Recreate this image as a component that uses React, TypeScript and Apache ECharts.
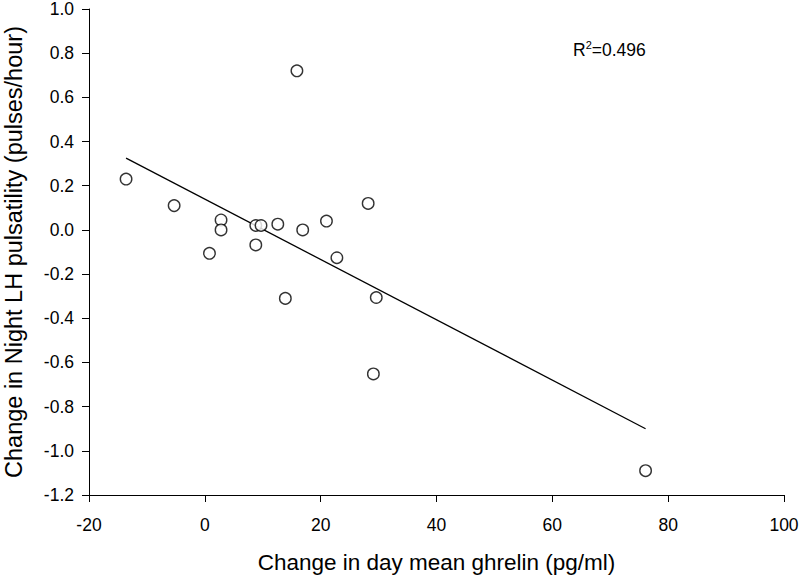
import React, { useEffect, useRef } from "react";
import * as echarts from "echarts";

// Change in day mean ghrelin (pg/ml) vs change in night LH pulsatility (pulses/hour)
const ghrelinChange: number[] = [-13.6, -5.3, 2.8, 2.8, 0.8, 8.8, 9.7, 8.8, 12.6, 16.9, 13.9, 15.9, 21.0, 22.8, 28.2, 29.6, 29.1, 76.1];
const lhChange: number[] = [0.23, 0.11, 0.045, 0.0, -0.106, 0.02, 0.02, -0.068, 0.026, 0.0, -0.31, 0.72, 0.04, -0.126, 0.12, -0.306, -0.652, -1.09];

// Regression line endpoints
const fitX: number[] = [-13.6, 76.1];
const fitY: number[] = [0.325, -0.9];

const xTicks = { min: -20, max: 100, interval: 20 };
const yTicks = { min: -1.2, max: 1.0, interval: 0.2 };

const rSquaredLabel = "0.496";
const xTitle = "Change in day mean ghrelin (pg/ml)";
const yTitle = "Change in Night LH pulsatility (pulses/hour)";

const FONT = "'Liberation Sans', Arial, Helvetica, sans-serif";

export default function App() {
  const ref = useRef<HTMLDivElement>(null);

  useEffect(() => {
    if (!ref.current) return;
    const chart = echarts.init(ref.current, null, { renderer: "svg" });
    const points = ghrelinChange.map((x, i) => [x, lhChange[i]]);
    const fit = fitX.map((x, i) => [x, fitY[i]]);
    const axisCommon = {
      axisLine: { show: true, onZero: false, lineStyle: { color: "#000", width: 1 } },
      axisTick: { show: true, inside: false, length: 7, lineStyle: { color: "#000", width: 1 } },
      splitLine: { show: false },
    };
    chart.setOption({
      animation: false,
      backgroundColor: "#fff",
      grid: { left: 89, top: 9, width: 695, height: 486, containLabel: false, outerBoundsMode: "none" },
      xAxis: {
        type: "value",
        ...axisCommon,
        min: xTicks.min,
        max: xTicks.max,
        interval: xTicks.interval,
        name: xTitle,
        nameLocation: "middle",
        nameGap: 56,
        nameTextStyle: { color: "#000", fontSize: 22.5, fontFamily: FONT },
        axisLabel: { color: "#000", fontSize: 17.5, fontFamily: FONT, margin: 21 },
      },
      yAxis: {
        type: "value",
        ...axisCommon,
        min: yTicks.min,
        max: yTicks.max,
        interval: yTicks.interval,
        name: yTitle,
        nameLocation: "middle",
        nameGap: 63,
        nameTextStyle: { color: "#000", fontSize: 23.5, fontFamily: FONT },
        axisLabel: {
          color: "#000",
          fontSize: 17.5,
          fontFamily: FONT,
          margin: 15,
          formatter: (v: number) => v.toFixed(1),
        },
      },
      series: [
        {
          type: "line",
          data: fit,
          symbol: "none",
          lineStyle: { color: "#000", width: 1.3 },
          silent: true,
          z: 1,
        },
        {
          type: "scatter",
          data: points,
          symbol: "circle",
          symbolSize: 11.5,
          itemStyle: { color: "#fff", borderColor: "#000", borderWidth: 1.4 },
          z: 2,
        },
      ],
      graphic: [
        {
          type: "text",
          left: 573,
          top: 39,
          style: {
            text: "{a|R}{s|2}{a|=" + rSquaredLabel + "}",
            rich: {
              a: { fontSize: 17.5, fontFamily: FONT, fill: "#000", verticalAlign: "bottom", lineHeight: 20 },
              s: { fontSize: 11, fontFamily: FONT, fill: "#000", verticalAlign: "top", lineHeight: 20, padding: [0, 0, 8, 0] },
            },
          },
        },
      ],
    });
    return () => chart.dispose();
  }, []);

  return (
    <div
      ref={ref}
      style={{ position: "absolute", left: 0, top: 0, width: 800, height: 577 }}
    />
  );
}
